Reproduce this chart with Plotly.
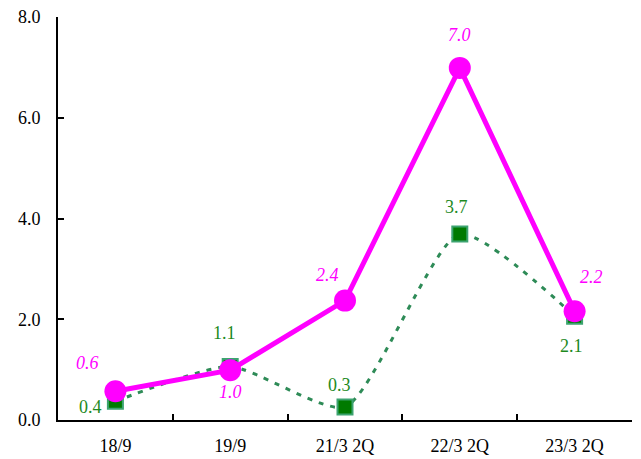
import plotly.graph_objects as go

categories = ["18/9", "19/9", "21/3 2Q", "22/3 2Q", "23/3 2Q"]
magenta_vals = [0.57, 0.99, 2.37, 6.99, 2.16]
green_vals = [0.37, 1.06, 0.26, 3.69, 2.06]

# label offsets (pixels) relative to each point
mag_shift = [(-28, 28), (0, -22), (-18, 26), (0, 33), (17, 34)]
grn_shift = [(-25, -6), (-6, 34), (-6, 22), (-3, 27), (-3, -30)]

FONT = "'Times New Roman', 'Liberation Serif', Times, serif"
MAG = "#FF00FF"
GRN_TXT = "#1E8A1E"

fig = go.Figure()
fig.add_trace(go.Scatter(
    x=categories, y=green_vals, mode="lines+markers",
    line=dict(color="#2E8B57", width=3, dash="5px,7px", shape="spline", smoothing=0.6),
    marker=dict(symbol="square", size=15, color="#007A00",
                line=dict(color="#3CA370", width=2)),
    showlegend=False, hoverinfo="skip",
))
fig.add_trace(go.Scatter(
    x=categories, y=magenta_vals, mode="lines+markers",
    line=dict(color=MAG, width=5),
    marker=dict(symbol="circle", size=22, color=MAG),
    showlegend=False, hoverinfo="skip",
))

annotations = []
for c, v, (dx, dy) in zip(categories, green_vals, grn_shift):
    annotations.append(dict(x=c, y=v, text=f"{v:.1f}", showarrow=False,
                            xshift=dx, yshift=dy,
                            font=dict(family=FONT, size=18, color=GRN_TXT)))
for c, v, (dx, dy) in zip(categories, magenta_vals, mag_shift):
    annotations.append(dict(x=c, y=v, text=f"<i>{v:.1f}</i>", showarrow=False,
                            xshift=dx, yshift=dy,
                            font=dict(family=FONT, size=18, color=MAG)))

fig.update_layout(
    width=641, height=459,
    margin=dict(l=58, r=9, t=17, b=39),
    paper_bgcolor="white", plot_bgcolor="white",
    font=dict(family=FONT, size=18, color="black"),
    annotations=annotations,
    xaxis=dict(type="category", range=[-0.5, 4.5], showgrid=False, zeroline=False,
               showline=True, linecolor="black", linewidth=2, automargin=False,
               ticks="inside", tickson="boundaries", ticklen=6, tickwidth=2, tickcolor="black",
               ticklabelstandoff=8,
               tickfont=dict(family=FONT, size=18)),
    yaxis=dict(range=[0, 8], dtick=2, tickformat=".1f", showgrid=False, zeroline=False,
               showline=True, linecolor="black", linewidth=2, automargin=False,
               ticks="inside", ticklen=6, tickwidth=2, tickcolor="black",
               ticklabelstandoff=12,
               tickfont=dict(family=FONT, size=18)),
)

fig.write_html("out.html", config={"displayModeBar": False},
               post_script="document.body.style.margin='0';")
